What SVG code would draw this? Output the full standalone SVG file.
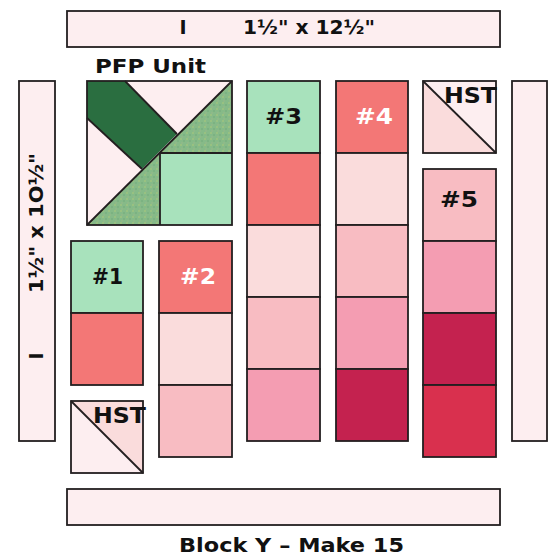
<svg xmlns="http://www.w3.org/2000/svg" width="553" height="556" viewBox="0 0 553 556">
<style>
.s{stroke:#231f20;stroke-width:1.8;}
.ln{stroke:#231f20;stroke-width:1.8;fill:none;}
.t{font-family:"DejaVu Sans","Liberation Sans",sans-serif;font-weight:bold;fill:#111;}
.w{fill:#fff;}
.bar{fill:#fdeef0;}
.g{fill:#a8e2bc;}
.r{fill:#f37776;}
.lp{fill:#fadcdc;}
.p{fill:#f8bcc2;}
.mp{fill:#f49db2;}
.cr{fill:#c4224f;}
.rc{fill:#d9304e;}
</style>
<defs>
<pattern id="spk" width="6" height="6" patternUnits="userSpaceOnUse">
<rect width="6" height="6" fill="#86ba88"/>
<circle cx="1" cy="1" r="0.8" fill="#b0cb78"/>
<circle cx="4" cy="3" r="0.8" fill="#6fa97a"/>
<circle cx="2" cy="5" r="0.7" fill="#a0b88c"/>
</pattern>
</defs>

<g id="top-bar">
<rect x="67" y="11" width="433" height="36" class="s bar"/>
<text x="183" y="34" class="t" font-size="19" text-anchor="middle">I</text>
<text x="243" y="34" class="t" font-size="19" textLength="132" lengthAdjust="spacingAndGlyphs">1½" x 12½"</text>
</g>

<g id="left-bar">
<rect x="19" y="81" width="36" height="360" class="s bar"/>
<text transform="translate(43,223) rotate(-90)" class="t" font-size="19" text-anchor="middle" textLength="140" lengthAdjust="spacingAndGlyphs">1½" x 1O½"</text>
<text transform="translate(43,356) rotate(-90)" class="t" font-size="19" text-anchor="middle">I</text>
</g>

<g id="right-bar">
<rect x="512" y="81" width="35" height="360" class="s bar"/>
</g>

<g id="bottom-bar">
<rect x="67" y="489" width="433" height="36" class="s bar"/>
</g>

<g id="pfp-unit">
<text x="95" y="73" class="t" font-size="20" textLength="111" lengthAdjust="spacingAndGlyphs">PFP Unit</text>
<rect x="87" y="81" width="145" height="144" fill="#fdeef0"/>
<polygon points="87,225 232,81 232,225" fill="url(#spk)"/>
<polygon points="87,81 125,81 177,134 142,169 87,118" fill="#2a6e40"/>
<rect x="160" y="153" width="72" height="72" class="g"/>
<polyline points="125,81 177,134" class="ln"/>
<polyline points="87,118 142,169" class="ln"/>
<line x1="87" y1="225" x2="232" y2="81" class="ln"/>
<polyline points="160,225 160,153 232,153" class="ln"/>
<rect x="87" y="81" width="145" height="144" class="ln"/>
</g>

<g id="col-1">
<rect x="71" y="241" width="72" height="72" class="s g"/>
<rect x="71" y="313" width="72" height="72" class="s r"/>
<text x="92" y="284" class="t" font-size="21" textLength="31" lengthAdjust="spacingAndGlyphs">#1</text>
</g>

<g id="hst-left">
<polygon points="71,401 71,473 143,473" class="bar"/>
<polygon points="71,401 143,401 143,473" class="lp"/>
<rect x="71" y="401" width="72" height="72" class="ln"/>
<line x1="71" y1="401" x2="143" y2="473" class="ln"/>
<text x="93" y="423" class="t" font-size="21" textLength="53" lengthAdjust="spacingAndGlyphs">HST</text>
</g>

<g id="col-2">
<rect x="159" y="241" width="73" height="72" class="s r"/>
<rect x="159" y="313" width="73" height="72" class="s lp"/>
<rect x="159" y="385" width="73" height="72" class="s p"/>
<text x="180" y="284" class="t w" font-size="21" textLength="36" lengthAdjust="spacingAndGlyphs">#2</text>
</g>

<g id="col-3">
<rect x="247" y="81" width="73" height="72" class="s g"/>
<rect x="247" y="153" width="73" height="72" class="s r"/>
<rect x="247" y="225" width="73" height="72" class="s lp"/>
<rect x="247" y="297" width="73" height="72" class="s p"/>
<rect x="247" y="369" width="73" height="72" class="s mp"/>
<text x="265" y="124" class="t" font-size="21" textLength="37" lengthAdjust="spacingAndGlyphs">#3</text>
</g>

<g id="col-4">
<rect x="336" y="81" width="72" height="72" class="s r"/>
<rect x="336" y="153" width="72" height="72" class="s lp"/>
<rect x="336" y="225" width="72" height="72" class="s p"/>
<rect x="336" y="297" width="72" height="72" class="s mp"/>
<rect x="336" y="369" width="72" height="72" class="s cr"/>
<text x="355" y="124" class="t w" font-size="21" textLength="38" lengthAdjust="spacingAndGlyphs">#4</text>
</g>

<g id="hst-right">
<polygon points="423,81 423,153 496,153" class="lp"/>
<polygon points="423,81 496,81 496,153" class="bar"/>
<rect x="423" y="81" width="73" height="72" class="ln"/>
<line x1="423" y1="81" x2="496" y2="153" class="ln"/>
<text x="444" y="103" class="t" font-size="21" textLength="53" lengthAdjust="spacingAndGlyphs">HST</text>
</g>

<g id="col-5">
<rect x="423" y="169" width="73" height="72" class="s p"/>
<rect x="423" y="241" width="73" height="72" class="s mp"/>
<rect x="423" y="313" width="73" height="72" class="s cr"/>
<rect x="423" y="385" width="73" height="72" class="s rc"/>
<text x="440" y="207" class="t" font-size="21" textLength="38" lengthAdjust="spacingAndGlyphs">#5</text>
</g>

<g id="title">
<text x="179" y="552" class="t" font-size="20" textLength="225" lengthAdjust="spacingAndGlyphs">Block Y – Make 15</text>
</g>
</svg>
